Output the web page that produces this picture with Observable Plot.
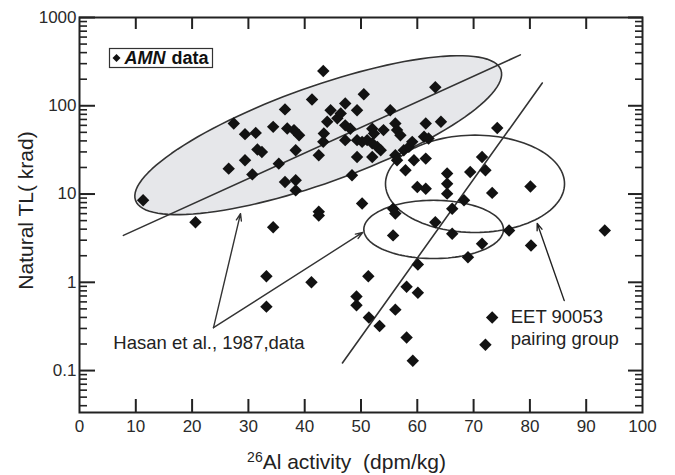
<!DOCTYPE html>
<html>
<head>
<meta charset="utf-8">
<script src="https://cdn.jsdelivr.net/npm/d3@7"></script>
<script src="https://cdn.jsdelivr.net/npm/@observablehq/plot@0.6"></script>
<style>
  html, body { margin: 0; padding: 0; background: #fff; }
  #chart svg { display: block; }
</style>
</head>
<body>
<div id="chart"></div>
<script>
// 26Al activity (dpm/kg) and natural TL (krad) of the AMN meteorites
const alActivity = [11.3, 20.6, 26.5, 27.4, 29.4, 29.4, 30.7, 31.3, 31.6, 32.4,
  33.2, 33.2, 34.4, 34.4, 35.4, 36.5, 36.5, 36.9, 38.1, 38.4,
  38.4, 38.4, 39.0, 41.2, 41.3, 42.5, 42.5, 42.5, 43.3, 43.4,
  43.3, 44.0, 44.6, 45.8, 46.4, 47.2, 47.2, 48.1, 47.2, 48.4,
  49.2, 49.2, 49.3, 49.3, 49.3, 50.2, 50.2, 50.5, 51.1, 51.3,
  51.4, 52.0, 52.3, 52.0, 52.9, 53.5, 52.0, 53.3, 54.0, 55.2,
  55.7, 56.1, 55.7, 56.1, 56.4, 57.0, 56.1, 56.4, 56.1, 57.9,
  57.6, 58.5, 59.1, 59.4, 58.1, 58.1, 59.2, 60.0, 61.5, 60.1,
  60.1, 61.5, 61.2, 62.0, 61.5, 63.2, 63.2, 64.2, 65.3, 65.3,
  65.3, 66.2, 66.2, 68.3, 69.0, 69.4, 71.5, 72.1, 71.5, 72.1,
  73.3, 73.3, 74.2, 76.3, 80.1, 80.2, 93.3];
const naturalTL = [8.5, 4.8, 19.4, 63, 47.7, 24.2, 16.7, 49.3, 32, 30,
  1.17, 0.53, 57.7, 4.2, 22.1, 91, 13.7, 55.4, 53, 14.3,
  11, 31.4, 46.4, 1.0, 118, 27.5, 6.3, 5.7, 248, 48.5,
  39, 66, 89, 72, 82, 106, 60, 55, 40.8, 16.3,
  0.69, 0.55, 89, 40.8, 26.3, 39, 7.8, 135, 40.8, 1.17,
  0.40, 55, 48.5, 37.5, 34.2, 31.4, 26.3, 0.32, 53, 89,
  6.8, 6.0, 3.4, 63, 53, 46.4, 27.5, 24.2, 0.49, 18.6,
  31.4, 34.2, 39, 24.2, 0.89, 0.237, 0.129, 12, 11.5, 1.59,
  0.76, 63, 44.5, 42.6, 25.2, 162, 4.8, 66, 17.1, 13.1,
  10.1, 6.8, 3.55, 8.5, 1.92, 17.8, 26.3, 18.6, 2.73, 0.196,
  10.3, 0.40, 56, 3.87, 12.2, 2.61, 3.87];

// Ellipses in (dpm/kg, log10 krad) space: centre and two conjugate semi-axes
const hasanEllipse = {cx: 42.4, cLog: 1.667, a: [32.45, 0.739], b: [2.86, -0.514]};
const pairingOuterEllipse = {cx: 70.25, cLog: 1.116, a: [15.9, 0], b: [0, 0.551]};
const pairingInnerEllipse = {cx: 62.9, cLog: 0.599, a: [12.4, 0], b: [0, 0.33]};

// Trend lines (end points)
const hasanTrend = [{x: 7.8, y: 3.4}, {x: 78.3, y: 377}];
const pairingTrend = [{x: 46.7, y: 0.122}, {x: 82.2, y: 181}];

// Call-out arrows and their labels
const hasanArrows = [
  {x1: 23.8, y1: 0.306, x2: 28.6, y2: 6.0},
  {x1: 23.8, y1: 0.306, x2: 50.3, y2: 3.67}
];
const pairingArrow = [{x1: 86.1, y1: 0.62, x2: 81.3, y2: 4.65}];
const notes = [
  {x: 6.0, y: 0.206, text: "Hasan et al., 1987,data"},
  {x: 76.6, y: 0.408, text: "EET 90053"},
  {x: 76.6, y: 0.229, text: "pairing group"}
];

// Axis ticks
const xTicks = [0, 10, 20, 30, 40, 50, 60, 70, 80, 90, 100];
const yTicks = [0.1, 1, 10, 100, 1000];
const yMinorTicks = [0.01, 0.1, 1, 10, 100]
  .flatMap(d => [2, 3, 4, 5, 6, 7, 8, 9].map(k => +(k * d).toPrecision(3)))
  .filter(v => v > 0.034 && v < 1000);

const points = alActivity.map((x, i) => ({x, y: naturalTL[i]}));

function outline(e) {
  return d3.range(0, 360, 3).map(deg => {
    const t = deg * Math.PI / 180;
    return {
      x: e.cx + e.a[0] * Math.cos(t) + e.b[0] * Math.sin(t),
      y: 10 ** (e.cLog + e.a[1] * Math.cos(t) + e.b[1] * Math.sin(t))
    };
  });
}

const ink = "#333";
const lineStyle = {x: "x", y: "y", stroke: ink, strokeWidth: 1.6};

const chart = Plot.plot({
  width: 675,
  height: 475,
  marginLeft: 79,
  marginRight: 33,
  marginTop: 17,
  marginBottom: 63,
  style: {fontFamily: "'Liberation Sans', Arial, sans-serif", fontSize: "17px", color: "#2a2a2a", background: "#fff"},
  x: {domain: [0, 100]},
  y: {type: "log", domain: [0.0335, 1000]},
  marks: [
    Plot.line(outline(hasanEllipse), {...lineStyle, curve: "linear-closed", fill: "#e6e7ea"}),
    Plot.line(outline(pairingOuterEllipse), {...lineStyle, curve: "linear-closed"}),
    Plot.line(outline(pairingInnerEllipse), {...lineStyle, curve: "linear-closed"}),
    Plot.line(hasanTrend, lineStyle),
    Plot.line(pairingTrend, lineStyle),
    Plot.arrow(hasanArrows, {x1: "x1", y1: "y1", x2: "x2", y2: "y2", stroke: ink, strokeWidth: 1.4, headLength: 8, headAngle: 40}),
    Plot.arrow(pairingArrow, {x1: "x1", y1: "y1", x2: "x2", y2: "y2", stroke: "#222", strokeWidth: 1.4, headLength: 8, headAngle: 40}),
    Plot.dot(points, {x: "x", y: "y", symbol: "diamond2", r: 5.6, fill: "#121212"}),
    Plot.text(notes, {x: "x", y: "y", text: "text", textAnchor: "start", fontSize: 18.5, fill: "#222"}),

    // axes: labels outside, ticks pointing into the frame on all four sides
    Plot.axisX(xTicks, {anchor: "bottom", tickSize: 0, tickPadding: 7, label: null, fontSize: 17}),
    Plot.axisX(xTicks.slice(1, -1), {anchor: "bottom", tickSize: -13, fill: "none", label: null, strokeWidth: 2, stroke: "#222"}),
    Plot.axisX(xTicks.slice(1, -1), {anchor: "top", tickSize: -11, fill: "none", label: null, strokeWidth: 2, stroke: "#222"}),
    Plot.axisY(yTicks, {anchor: "left", tickSize: 0, tickPadding: 3, label: null, fontSize: 17, tickFormat: d => String(d)}),
    Plot.axisY(yTicks, {anchor: "left", tickSize: -16, fill: "none", label: null, strokeWidth: 2, stroke: "#222"}),
    Plot.axisY(yMinorTicks, {anchor: "left", tickSize: -8, fill: "none", label: null, strokeWidth: 1.6, stroke: "#222"}),
    Plot.axisY(yTicks, {anchor: "right", tickSize: -15, fill: "none", label: null, strokeWidth: 2, stroke: "#222"}),
    Plot.axisY(yMinorTicks, {anchor: "right", tickSize: -8, fill: "none", label: null, strokeWidth: 1.6, stroke: "#222"}),
    Plot.frame({stroke: "#222", strokeWidth: 2}),

    // axis titles
    Plot.text(["Al activity\u00a0 (dpm/kg)"], {text: d => d, frameAnchor: "bottom", textAnchor: "middle", lineAnchor: "middle", dx: -14.5, dy: 49.8, fontSize: 21, fill: "#222", className: "x-title"}),
    Plot.text(["Natural TL( krad)"], {text: d => d, frameAnchor: "left", textAnchor: "middle", lineAnchor: "middle", dx: -53.5, dy: -4.5, rotate: -90, fontSize: 21, fill: "#222"}),

    // legend
    Plot.frame({insetLeft: 30, insetTop: 31, insetRight: 430, insetBottom: 345, stroke: ink, strokeWidth: 1.2}),
    Plot.dot(["AMN"], {frameAnchor: "top-left", dx: 37, dy: 40.5, symbol: "diamond2", r: 3.6, fill: "#111"}),
    Plot.text(["AMN"], {text: d => d, frameAnchor: "top-left", dx: 45, dy: 40.5, textAnchor: "start", lineAnchor: "middle", fontSize: 18, fontWeight: "bold", fontStyle: "italic", fill: "#111"}),
    Plot.text(["data"], {text: d => d, frameAnchor: "top-left", dx: 92, dy: 40.5, textAnchor: "start", lineAnchor: "middle", fontSize: 18, fontWeight: "bold", fill: "#111"})
  ]
});

// superscript mass number in the x title
const xTitle = d3.select(chart).select(".x-title text");
const titleText = xTitle.text();
xTitle.text(null);
xTitle.append("tspan").attr("font-size", 14).attr("dy", -7).text("26");
xTitle.append("tspan").attr("dy", 7).text(titleText);

document.getElementById("chart").append(chart);
</script>
</body>
</html>
